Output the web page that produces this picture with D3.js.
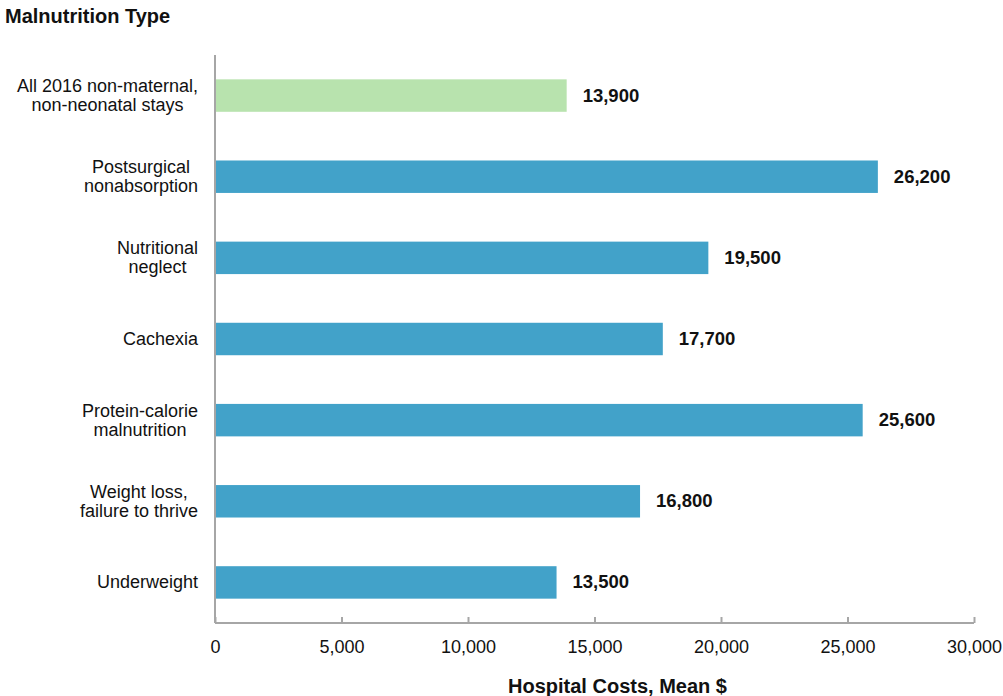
<!DOCTYPE html>
<html>
<head>
<meta charset="utf-8">
<script src="https://cdn.jsdelivr.net/npm/d3@7"></script>
<style>
  html, body { margin: 0; padding: 0; background: #fff; }
  svg { display: block; font-family: Arial, "Liberation Sans", sans-serif; }
</style>
</head>
<body>
<svg id="chart" width="1003" height="696"></svg>
<script>
// Mean hospital costs by malnutrition type
const categories = [
  ["All 2016 non-maternal,", "non-neonatal stays"],
  ["Postsurgical", "nonabsorption"],
  ["Nutritional", "neglect"],
  ["Cachexia"],
  ["Protein-calorie", "malnutrition"],
  ["Weight loss,", "failure to thrive"],
  ["Underweight"]
];
const costs = [13900, 26200, 19500, 17700, 25600, 16800, 13500];
const isReference = [true, false, false, false, false, false, false];
const xTicks = [0, 5000, 10000, 15000, 20000, 25000, 30000];

const svg = d3.select("#chart");
const plotLeft = 215, plotRight = 974, plotTop = 55, plotBottom = 623;

const x = d3.scaleLinear().domain([0, 30000]).range([plotLeft, plotRight]);
const y = d3.scaleBand()
  .domain(d3.range(categories.length))
  .range([plotTop, plotBottom])
  .paddingInner(0.6)
  .paddingOuter(0.3);

const fmt = d3.format(",");
const axisColor = "#a6a6a6";
const textColor = "#111";

// Bars
svg.append("g").selectAll("rect")
  .data(costs)
  .join("rect")
  .attr("x", x(0))
  .attr("y", (d, i) => y(i))
  .attr("width", d => x(d) - x(0))
  .attr("height", y.bandwidth())
  .attr("fill", (d, i) => isReference[i] ? "#b8e3ae" : "#42a2c9");

// Value labels
svg.append("g").selectAll("text")
  .data(costs)
  .join("text")
  .attr("x", d => x(d) + 16)
  .attr("y", (d, i) => y(i) + y.bandwidth() / 2 + 6)
  .attr("font-size", 18.5)
  .attr("font-weight", "bold")
  .attr("fill", textColor)
  .text(d => fmt(d));

// X axis (ticks pointing inward)
const xAxis = d3.axisBottom(x)
  .tickValues(xTicks)
  .tickSize(-6)
  .tickPadding(14)
  .tickFormat(fmt);
const gx = svg.append("g")
  .attr("transform", `translate(0,${plotBottom})`)
  .call(xAxis);
gx.select(".domain").attr("stroke", axisColor).attr("stroke-width", 2)
  .attr("d", `M${plotLeft},0H${plotRight}`);
gx.selectAll(".tick line").attr("stroke", axisColor).attr("stroke-width", 2);
gx.selectAll(".tick text")
  .attr("font-size", 18)
  .attr("font-family", "Arial, 'Liberation Sans', sans-serif")
  .attr("fill", textColor)
  .attr("dy", null)
  .attr("y", 30);

// Y axis line
svg.append("line")
  .attr("x1", plotLeft).attr("x2", plotLeft)
  .attr("y1", plotTop).attr("y2", plotBottom)
  .attr("stroke", axisColor)
  .attr("stroke-width", 2);

// Category labels: block right-aligned, lines centred within the block
const labelRight = 198;
const lineGap = 19;
categories.forEach((lines, i) => {
  const cy = y(i) + y.bandwidth() / 2;
  const g = svg.append("g");
  const texts = lines.map((ln, k) => g.append("text")
    .attr("font-size", 18)
    .attr("fill", textColor)
    .attr("text-anchor", "middle")
    .attr("y", cy + 6 + (k - (lines.length - 1) / 2) * lineGap)
    .text(ln));
  const w = d3.max(texts, t => t.node().getComputedTextLength());
  texts.forEach(t => t.attr("x", labelRight - w / 2));
});

// Titles
svg.append("text")
  .attr("x", 5).attr("y", 23)
  .attr("font-size", 20)
  .attr("font-weight", "bold")
  .attr("fill", textColor)
  .text("Malnutrition Type");

svg.append("text")
  .attr("x", (plotLeft + plotRight) / 2 + 23).attr("y", 693)
  .attr("text-anchor", "middle")
  .attr("font-size", 20)
  .attr("font-weight", "bold")
  .attr("fill", textColor)
  .text("Hospital Costs, Mean $");
</script>
</body>
</html>
